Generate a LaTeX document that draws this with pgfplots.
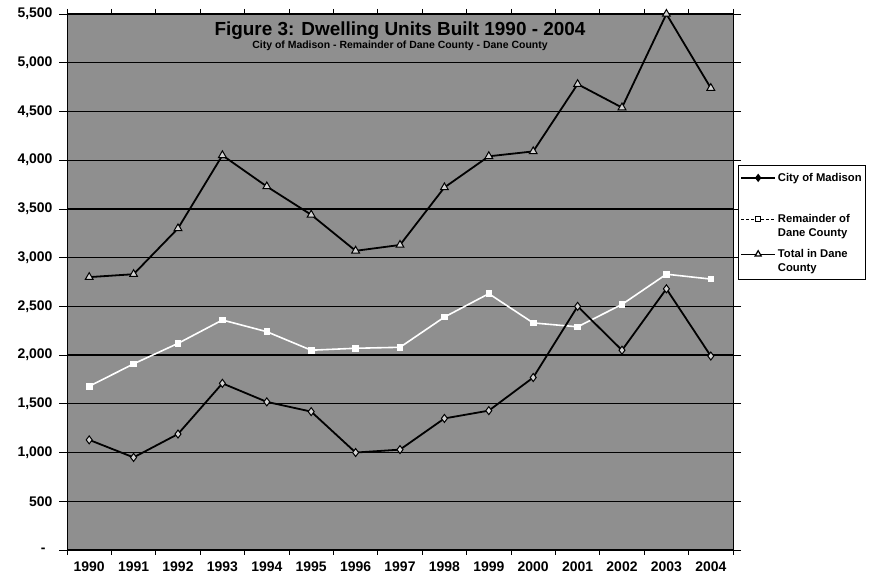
\documentclass[border=0pt]{standalone}
\usepackage{fontspec}
\setmainfont{Liberation Sans}
\usepackage{pgfplots}
\pgfplotsset{compat=1.18}
\begin{document}
\begin{tikzpicture}
\useasboundingbox (0,0) rectangle (869bp,574bp);
\begin{axis}[
  at={(67bp,24bp)}, anchor=south west,
  scale only axis, width=666bp, height=536bp,
  xmin=-0.5, xmax=14.5, ymin=0, ymax=5500,
  clip=false,
  axis background/.style={fill=black!44},
  axis line style={black, line width=1bp},
  xtick={0,...,14},
  xticklabels={1990,1991,1992,1993,1994,1995,1996,1997,1998,1999,2000,2001,2002,2003,2004},
  minor xtick={-0.5,0.5,...,14.5},
  major x tick style={draw=none},
  minor x tick style={black, line width=0.8bp},
  minor tick length=5bp,
  ytick={0,500,...,5500},
  yticklabels={{-\hspace*{7bp}},{500},{1,000},{1,500},{2,000},{2,500},{3,000},{3,500},{4,000},{4,500},{5,000},{5,500}},
  major tick length=8bp,
  ytick style={black, line width=0.8bp},
  tick align=outside,
  ymajorgrids,
  major grid style={black, line width=1.3bp},
  ticklabel style={font=\bfseries\fontsize{14}{16}\selectfont},
  yticklabel style={xshift=-3bp},
  legend image code/.code={\draw[mark repeat=2, mark phase=2, #1] plot coordinates {(0bp,3.5bp) (17bp,3.5bp) (34bp,3.5bp)};},
  legend style={at={(1.0075,0.7183)}, anchor=north west, draw=black, line width=0.8bp, fill=white,
    inner xsep=2bp, inner ysep=5bp, row sep=0bp, cells={anchor=base west, inner ysep=0bp},
    font=\bfseries\fontsize{11.3}{13}\selectfont},
]
% Remainder of Dane County
\addplot[forget plot, white, line width=1.6bp, mark=square*, mark size=2.5bp, mark options={fill=white, draw=white}]
  coordinates {(0,1680) (1,1910) (2,2120) (3,2360) (4,2240) (5,2050) (6,2070) (7,2080) (8,2390) (9,2630) (10,2330) (11,2290) (12,2520) (13,2830) (14,2780)};
% Total in Dane County
\addplot[forget plot, black, line width=1.8bp, mark=triangle*, mark size=4.5bp, mark options={fill=gray!35, line width=1bp}]
  coordinates {(0,2800) (1,2830) (2,3300) (3,4050) (4,3730) (5,3440) (6,3070) (7,3130) (8,3720) (9,4040) (10,4090) (11,4780) (12,4540) (13,5500) (14,4740)};
% City of Madison
\addplot[forget plot, black, line width=1.8bp, mark=diamond*, mark size=4bp, mark options={fill=gray!35, line width=1bp}]
  coordinates {(0,1130) (1,950) (2,1190) (3,1710) (4,1520) (5,1420) (6,1000) (7,1030) (8,1350) (9,1430) (10,1770) (11,2500) (12,2050) (13,2680) (14,1990)};

\addlegendimage{black, line width=1.5bp, mark=diamond*, mark size=3bp, mark options={fill=black}}
\addlegendentry{\rule{0pt}{9bp}City of Madison}
\addlegendimage{black, line width=0.9bp, dash pattern=on 3bp off 2bp, mark=square*, mark size=2.5bp, mark options={fill=white, draw=black, solid}}
\addlegendentry{\rule{0pt}{36bp}Remainder of}
\addlegendimage{empty legend}
\addlegendentry{Dane County}
\addlegendimage{black, line width=1.2bp, mark=triangle*, mark size=3.5bp, mark options={fill=white, draw=black}}
\addlegendentry{\rule{0pt}{16bp}Total in Dane}
\addlegendimage{empty legend}
\addlegendentry{\rule[-7bp]{0pt}{7bp}County}

\node[anchor=base, yshift=-22bp, font=\bfseries\fontsize{19}{22}\selectfont] at (rel axis cs:0.5,1) {Figure 3: Dwelling Units Built 1990 - 2004};
\node[anchor=base, yshift=-35bp, font=\bfseries\fontsize{10.5}{12}\selectfont] at (rel axis cs:0.5,1) {City of Madison - Remainder of Dane County - Dane County};
\end{axis}
\end{tikzpicture}
\end{document}
